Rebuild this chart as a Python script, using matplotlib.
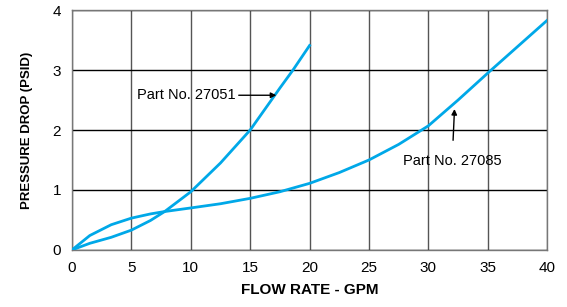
import matplotlib
matplotlib.use("Agg")
import matplotlib.pyplot as plt

plt.rcParams["font.family"] = ["Liberation Sans", "DejaVu Sans"]

# curve readings (flow GPM, pressure drop PSID)
flow_27051 = [0, 1.5, 3.3, 5, 6.6, 7.8, 10, 12.5, 15, 17.5, 18.6, 20]
dp_27051 = [0, 0.11, 0.21, 0.33, 0.49, 0.64, 0.97, 1.45, 2.0, 2.7, 3.0, 3.41]

flow_27085 = [0, 1.5, 3.3, 5, 6.6, 7.8, 10, 12.5, 15, 17.5, 20, 22.5, 25, 27.5, 30, 32.5, 35, 37.5, 40]
dp_27085 = [0, 0.24, 0.42, 0.53, 0.60, 0.64, 0.70, 0.77, 0.86, 0.97, 1.11, 1.29, 1.50, 1.76, 2.07, 2.50, 2.95, 3.39, 3.83]

x_ticks = [0, 5, 10, 15, 20, 25, 30, 35, 40]
y_ticks = [0, 1, 2, 3, 4]

blue = "#00a8e8"

fig = plt.figure(figsize=(5.67, 3.07), dpi=100)
ax = fig.add_axes([0.127, 0.186, 0.838, 0.781])

for x in x_ticks:
    ax.axvline(x, color="#555555", lw=1.0, zorder=1)
for y in y_ticks:
    ax.axhline(y, color="black", lw=1.0, zorder=1)

ax.plot(flow_27051, dp_27051, color=blue, lw=2.0, zorder=3, solid_joinstyle="round")
ax.plot(flow_27085, dp_27085, color=blue, lw=2.0, zorder=3, solid_joinstyle="round")

ax.set_xlim(0, 40)
ax.set_ylim(0, 4)
ax.set_xticks(x_ticks)
ax.set_yticks(y_ticks)
ax.tick_params(length=0, labelsize=11, pad=8)
for s in ax.spines.values():
    s.set_color("#777777")
    s.set_linewidth(1.0)

ax.annotate("Part No. 27051", xy=(17.2, 2.58), xytext=(5.5, 2.58),
            fontsize=10.5, va="center", ha="left",
            arrowprops=dict(arrowstyle="-|>", color="black", lw=1.0, mutation_scale=8,
                            shrinkA=0, shrinkB=0))
ax.annotate("Part No. 27085", xy=(32.2, 2.35), xytext=(32.0, 1.48),
            fontsize=10.5, va="center", ha="center",
            arrowprops=dict(arrowstyle="-|>", color="black", lw=1.0, mutation_scale=8,
                            shrinkA=8, shrinkB=0))

ax.set_xlabel("FLOW RATE - GPM", fontsize=11, fontweight="bold", labelpad=6)
ax.set_ylabel("PRESSURE DROP (PSID)", fontsize=9.5, fontweight="bold", labelpad=14)

fig.savefig("out.png", dpi=100)
